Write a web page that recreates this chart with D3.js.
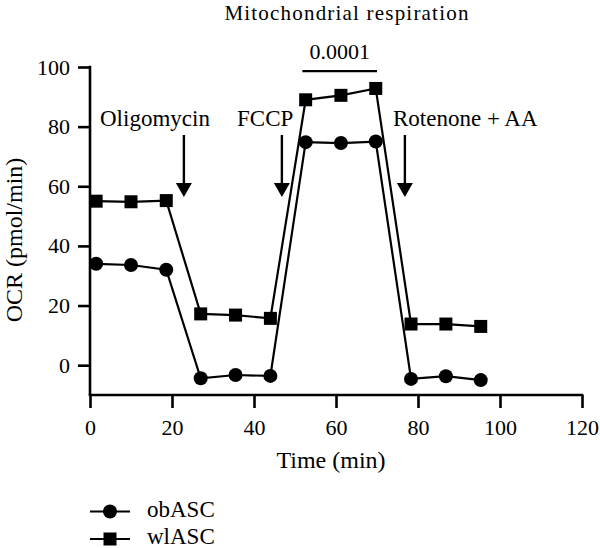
<!DOCTYPE html>
<html>
<head>
<meta charset="utf-8">
<script src="https://cdn.jsdelivr.net/npm/d3@7"></script>
<style>
  html, body { margin: 0; padding: 0; background: #fff; }
  svg { display: block; }
  svg text { font-family: "Liberation Serif", "Times New Roman", serif !important; fill: #000; }
</style>
</head>
<body>
<svg id="chart" width="600" height="548"></svg>
<script>
// ---- data ----
const times = [1.5, 10.0, 18.6, 27.0, 35.5, 44.0, 52.6, 61.2, 69.7, 78.3, 86.8, 95.3];
const obASC = [34.0, 33.6, 32.0, -4.4, -3.3, -3.6, 74.8, 74.5, 75.0, -4.6, -3.7, -5.0];
const wlASC = [55.0, 54.8, 55.2, 17.2, 16.8, 15.7, 89.0, 90.5, 92.8, 13.8, 13.8, 13.0];
const seriesNames = ["obASC", "wlASC"];
const xTicks = [0, 20, 40, 60, 80, 100, 120];
const yTicks = [0, 20, 40, 60, 80, 100];
const injections = [
  { label: "Oligomycin", t: 22.9 },
  { label: "FCCP", t: 46.8 },
  { label: "Rotenone + AA", t: 76.8 }
];
const sigLabel = "0.0001";
const sigRange = [51.8, 70.0];
const title = "Mitochondrial respiration";
const xLabel = "Time (min)";
const yLabel = "OCR (pmol/min)";

// ---- layout ----
const svg = d3.select("#chart");
const x = d3.scaleLinear().domain([0, 120]).range([90, 582]);
const y = d3.scaleLinear().domain([-10, 100]).range([395, 67]);
const FONT = "Liberation Serif, serif";

// axes
const axW = 2.6;
const xAxis = svg.append("g").attr("transform", `translate(0,${y(-10)})`)
  .call(d3.axisBottom(x).tickValues(xTicks).tickSize(13).tickPadding(6).tickFormat(d3.format("d")));
const yAxis = svg.append("g").attr("transform", `translate(${x(0)},0)`)
  .call(d3.axisLeft(y).tickValues(yTicks).tickSize(12).tickPadding(8).tickFormat(d3.format("d")));
[xAxis, yAxis].forEach(g => {
  g.attr("font-family", FONT);
  g.select(".domain").remove();
  g.selectAll(".tick line").attr("stroke", "#000").attr("stroke-width", axW);
  g.selectAll(".tick text").attr("font-size", 22).attr("fill", "#000");
});
xAxis.selectAll(".tick text").attr("dy", "0.95em");
// axis lines
svg.append("line").attr("x1", x(0) - axW / 2).attr("x2", x(120) + axW / 2)
  .attr("y1", y(-10)).attr("y2", y(-10)).attr("stroke", "#000").attr("stroke-width", axW);
svg.append("line").attr("x1", x(0)).attr("x2", x(0))
  .attr("y1", y(100) - axW / 2).attr("y2", y(-10)).attr("stroke", "#000").attr("stroke-width", axW);

// lines + markers
const line = d3.line().x((d, i) => x(times[i])).y(d => y(d));
[obASC, wlASC].forEach(vals => {
  svg.append("path").datum(vals).attr("d", line)
    .attr("fill", "none").attr("stroke", "#000").attr("stroke-width", 2.2);
});
svg.append("g").selectAll("circle").data(obASC).join("circle")
  .attr("cx", (d, i) => x(times[i])).attr("cy", d => y(d)).attr("r", 7).attr("fill", "#000");
const sq = 13;
svg.append("g").selectAll("rect").data(wlASC).join("rect")
  .attr("x", (d, i) => x(times[i]) - sq / 2).attr("y", d => y(d) - sq / 2)
  .attr("width", sq).attr("height", sq).attr("fill", "#000");

const txt = svg.append("g").attr("font-family", FONT);

// title
txt.append("text").attr("x", 347).attr("y", 20).attr("text-anchor", "middle")
  .attr("font-size", 21).attr("letter-spacing", 1.2).text(title);

// significance bar
svg.append("line").attr("x1", x(sigRange[0])).attr("x2", x(sigRange[1]))
  .attr("y1", y(98.6)).attr("y2", y(98.6)).attr("stroke", "#000").attr("stroke-width", 2.4);
txt.append("text").attr("x", x((sigRange[0] + sigRange[1]) / 2)).attr("y", 59)
  .attr("text-anchor", "middle").attr("font-size", 22).text(sigLabel);

// injection arrows
const labelX = [100, 237, 393];
injections.forEach((inj, i) => {
  const ax = x(inj.t);
  txt.append("text").attr("x", labelX[i]).attr("y", 126).attr("font-size", 23).text(inj.label);
  svg.append("line").attr("x1", ax).attr("x2", ax).attr("y1", 135).attr("y2", 186)
    .attr("stroke", "#000").attr("stroke-width", 2.4);
  svg.append("path").attr("d", `M${ax - 8},${183} L${ax + 8},${183} L${ax},${197} Z`).attr("fill", "#000");
});

// axis labels
txt.append("text").attr("x", 331).attr("y", 468).attr("text-anchor", "middle")
  .attr("font-size", 24).text(xLabel);
txt.append("text").attr("transform", `translate(22,240) rotate(-90)`).attr("text-anchor", "middle")
  .attr("font-size", 24).text(yLabel);

// legend
const legY = [511.5, 539];
seriesNames.forEach((name, i) => {
  const g = svg.append("g");
  g.append("line").attr("x1", 90).attr("x2", 130).attr("y1", legY[i]).attr("y2", legY[i])
    .attr("stroke", "#000").attr("stroke-width", 2.2);
  if (i === 0) g.append("circle").attr("cx", 110).attr("cy", legY[i]).attr("r", 7).attr("fill", "#000");
  else g.append("rect").attr("x", 110 - sq / 2).attr("y", legY[i] - sq / 2).attr("width", sq).attr("height", sq).attr("fill", "#000");
  g.append("text").attr("font-family", FONT).attr("x", 147).attr("y", legY[i] + 5).attr("font-size", 23).text(name);
});
</script>
</body>
</html>
